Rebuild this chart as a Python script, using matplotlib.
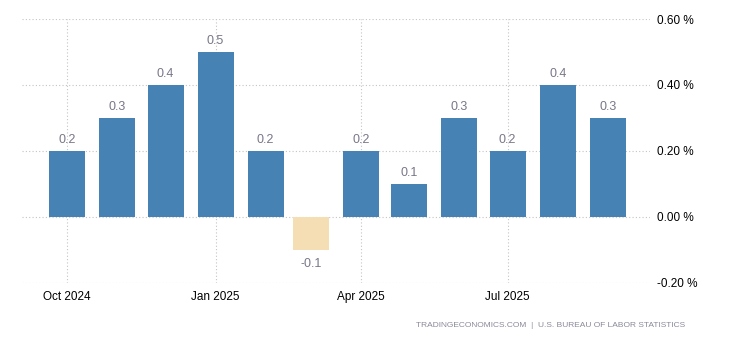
import matplotlib
matplotlib.use("Agg")
import matplotlib.pyplot as plt
import matplotlib.dates as mdates
import numpy as np
import datetime as dt

plt.rcParams["font.family"] = ["Liberation Sans", "DejaVu Sans"]

# monthly change, %
months = ["2024-10", "2024-11", "2024-12", "2025-01", "2025-02", "2025-03",
          "2025-04", "2025-05", "2025-06", "2025-07", "2025-08", "2025-09"]
values = [0.2, 0.3, 0.4, 0.5, 0.2, -0.1, 0.2, 0.1, 0.3, 0.2, 0.4, 0.3]
xticks = ["2024-10", "2025-01", "2025-04", "2025-07"]
yticks = [-0.2, 0.0, 0.2, 0.4, 0.6]

dates = [dt.datetime.strptime(m, "%Y-%m") for m in months]
tick_dates = [dt.datetime.strptime(m, "%Y-%m") for m in xticks]
colors = ["#4682B4" if v >= 0 else "#F5DEB3" for v in values]

fig = plt.figure(figsize=(7.3, 3.4), dpi=100)
ax = fig.add_axes([0.030, 0.168, 0.860, 0.776])

ax.bar(dates, values, width=22.3, color=colors, zorder=2)

for d, v in zip(dates, values):
    off = 8.0 if v >= 0 else -10
    ax.annotate(f"{v:.1f}", (d, v), xytext=(0, off), textcoords="offset points",
                ha="center", va="center", fontsize=9, color="#777788")

ax.set_xlim(dt.datetime(2024, 9, 3), dt.datetime(2025, 9, 27))
ax.set_ylim(-0.2, 0.6)
ax.set_xticks(tick_dates)
ax.xaxis.set_major_formatter(mdates.DateFormatter("%b %Y"))
ax.set_yticks(yticks)
ax.set_yticklabels([f"{t:.2f} %" for t in yticks])
ax.yaxis.tick_right()

ax.tick_params(axis="both", length=0, labelsize=8.5, colors="#000000")
ax.tick_params(axis="x", pad=6)
ax.tick_params(axis="y", pad=5)
ax.grid(True, linestyle=(0, (1, 2)), color="#c4c4c4", linewidth=0.8, zorder=0)
ax.set_axisbelow(True)
for s in ax.spines.values():
    s.set_visible(False)

fig.text(0.938, 0.043, "TRADINGECONOMICS.COM  |  U.S. BUREAU OF LABOR STATISTICS",
         ha="right", va="center", fontsize=6.0, color="#8a8a9a")

fig.savefig("out.png", dpi=100)
